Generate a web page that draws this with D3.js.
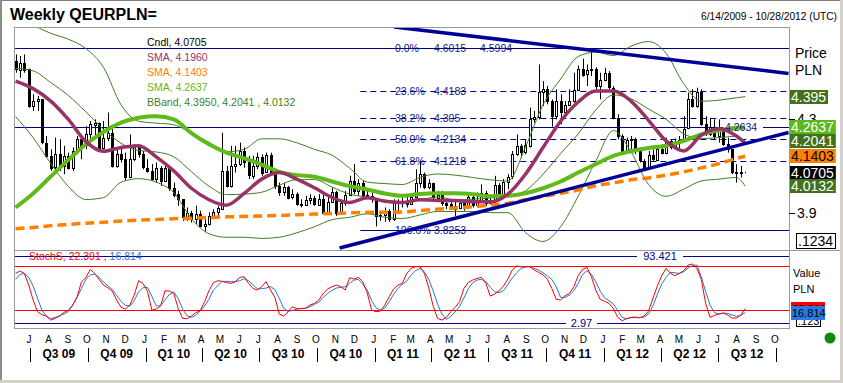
<!DOCTYPE html>
<html>
<head>
<meta charset="utf-8">
<script src="https://cdnjs.cloudflare.com/ajax/libs/d3/7.8.5/d3.min.js"></script>
<style>
  body { margin: 0; background: #fff; }
  svg text { font-family: "Liberation Sans", Arial, sans-serif; }
</style>
</head>
<body>
<div id="chart"></div>
<script>
// weekly candles, first bar = week of 8 Jun 2009, open of each bar = previous close
var firstWeek = new Date(2009, 5, 8);
var firstOpen = 4.547;
var closes = [
  4.511,4.540,4.511,4.355,4.376,4.383,4.199,4.142,4.092,4.149,
  4.099,4.142,4.092,4.163,4.213,4.185,4.234,4.277,4.284,4.178,
  4.220,4.241,4.099,4.149,4.128,4.050,4.128,4.178,4.149,4.092,
  4.078,4.043,4.092,4.036,4.092,4.007,3.979,3.957,3.879,3.898,
  3.872,3.894,3.844,3.851,3.884,3.901,3.918,4.078,4.014,4.099,
  4.107,4.163,4.114,4.057,4.099,4.139,4.071,4.145,4.071,4.014,
  3.989,4.011,3.965,3.979,3.936,3.933,3.955,3.963,3.936,3.960,
  3.901,3.946,3.989,3.901,3.940,3.975,4.036,3.993,4.026,3.975,
  3.969,3.957,3.886,3.889,3.908,3.872,3.946,3.943,3.949,3.936,
  3.965,4.026,4.064,4.007,4.026,3.965,3.977,3.943,3.936,3.929,
  3.918,3.940,3.922,3.965,3.932,3.955,3.983,3.940,3.950,4.017,
  3.975,4.031,4.054,4.149,4.185,4.159,4.187,4.301,4.310,4.415,
  4.429,4.376,4.310,4.376,4.329,4.358,4.375,4.423,4.514,4.490,
  4.508,4.514,4.440,4.466,4.494,4.433,4.305,4.227,4.159,4.210,
  4.216,4.170,4.121,4.088,4.145,4.128,4.173,4.156,4.206,4.182,
  4.196,4.210,4.258,4.383,4.355,4.415,4.277,4.239,4.267,4.227,
  4.258,4.192,4.170,4.071,4.074,4.071,4.0705];
var highs = [
  4.575,4.568,4.575,4.514,4.405,4.398,4.383,4.227,4.170,4.220,
  4.213,4.185,4.156,4.178,4.227,4.213,4.270,4.291,4.298,4.284,
  4.291,4.327,4.256,4.170,4.185,4.156,4.234,4.192,4.178,4.163,
  4.128,4.107,4.114,4.099,4.114,4.099,4.028,3.993,3.957,3.922,
  3.908,3.929,3.908,3.886,3.901,3.915,3.929,4.241,4.099,4.185,
  4.185,4.199,4.178,4.142,4.142,4.156,4.149,4.156,4.156,4.071,
  4.028,4.028,4.014,4.000,3.986,3.957,3.972,3.979,3.972,3.979,
  3.979,3.972,4.007,3.993,3.950,3.993,4.057,4.107,4.043,4.036,
  4.000,3.986,3.957,3.908,3.922,3.915,3.957,3.957,3.965,3.972,
  3.979,4.085,4.121,4.071,4.043,4.028,3.993,3.993,3.957,3.950,
  3.950,3.957,3.950,3.979,3.972,3.986,4.021,3.993,3.965,4.057,
  4.026,4.043,4.064,4.163,4.234,4.192,4.213,4.348,4.334,4.532,
  4.461,4.440,4.383,4.426,4.405,4.376,4.426,4.497,4.528,4.557,
  4.532,4.596,4.520,4.497,4.518,4.504,4.440,4.320,4.234,4.220,
  4.227,4.220,4.178,4.128,4.163,4.170,4.185,4.192,4.220,4.213,
  4.216,4.227,4.312,4.412,4.426,4.433,4.426,4.312,4.305,4.298,
  4.298,4.263,4.220,4.170,4.107,4.099,4.074];
var lows = [
  4.497,4.476,4.497,4.348,4.334,4.334,4.192,4.135,4.078,4.078,
  4.078,4.064,4.085,4.078,4.149,4.128,4.170,4.213,4.220,4.170,
  4.170,4.206,4.092,4.092,4.114,4.036,4.050,4.120,4.135,4.085,
  4.071,4.036,4.028,4.014,4.030,3.993,3.965,3.929,3.865,3.865,
  3.858,3.851,3.837,3.818,3.845,3.872,3.879,3.915,4.007,4.007,
  4.071,4.099,4.092,4.043,4.043,4.085,4.057,4.071,4.064,4.000,
  3.972,3.972,3.957,3.957,3.929,3.922,3.929,3.936,3.929,3.929,
  3.894,3.894,3.943,3.886,3.894,3.929,3.972,3.979,3.972,3.965,
  3.957,3.943,3.841,3.865,3.861,3.861,3.865,3.894,3.922,3.922,
  3.936,3.965,4.007,4.000,4.000,3.957,3.950,3.929,3.915,3.915,
  3.886,3.915,3.908,3.915,3.922,3.929,3.950,3.929,3.936,3.943,
  3.965,3.972,4.000,4.043,4.142,4.135,4.149,4.178,4.284,4.298,
  4.355,4.362,4.267,4.298,4.277,4.320,4.355,4.369,4.419,4.480,
  4.440,4.483,4.426,4.383,4.461,4.426,4.298,4.213,4.149,4.156,
  4.163,4.149,4.114,4.078,4.085,4.121,4.121,4.149,4.149,4.170,
  4.173,4.170,4.206,4.256,4.348,4.348,4.270,4.227,4.227,4.213,
  4.199,4.185,4.156,4.064,4.028,4.050,4.068];

// studies, read every 4 weeks (week index of the candle)
var lineWeeks = [0,4,8,12,16,20,24,28,32,36,40,44,48,52,56,60,64,68,72,76,80,
  84,88,92,96,100,104,108,112,116,120,124,128,132,136,140,144,148,152,156,160,164,166];
var smaPurple = [4.461,4.429,4.376,4.298,4.203,4.162,4.178,4.185,4.138,4.078,4.004,
  3.955,3.932,3.982,4.043,4.071,4.043,4.006,3.965,3.943,3.963,3.949,3.943,3.955,
  3.952,3.952,3.946,3.946,3.979,4.064,4.178,4.290,4.372,4.419,4.419,4.376,4.294,
  4.206,4.163,4.230,4.258,4.227,4.196];
var smaOrange = [3.831,3.837,3.844,3.850,3.855,3.859,3.864,3.868,3.871,3.874,3.876,
  3.879,3.882,3.884,3.886,3.888,3.891,3.894,3.896,3.899,3.901,3.902,3.903,3.909,
  3.915,3.920,3.925,3.932,3.940,3.955,3.969,3.983,3.996,4.015,4.027,4.040,4.048,
  4.060,4.074,4.091,4.109,4.131,4.1403];
var smaGreen = [3.922,3.982,4.054,4.125,4.192,4.244,4.284,4.305,4.311,4.298,4.239,
  4.192,4.156,4.132,4.105,4.074,4.060,4.053,4.033,4.013,3.999,3.982,3.972,3.980,
  3.983,3.983,3.979,3.970,3.972,3.983,4.004,4.033,4.071,4.107,4.142,4.162,4.176,
  4.185,4.206,4.234,4.250,4.262,4.2637];
var bandUpper = [4.74,4.70,4.665,4.64,4.60,4.52,4.36,4.29,4.282,4.275,4.238,
  4.20,4.16,4.17,4.215,4.215,4.198,4.17,4.145,4.09,4.03,4.024,4.02,4.05,
  4.065,4.06,4.05,4.04,4.035,4.18,4.36,4.47,4.566,4.585,4.57,4.61,4.63,
  4.58,4.45,4.375,4.38,4.39,4.395];
var bandMid = [4.515,4.505,4.455,4.400,4.330,4.256,4.196,4.165,4.159,4.138,4.075,
  4.013,3.977,3.979,3.987,4.017,4.041,4.041,4.009,3.979,3.966,3.953,3.947,3.955,
  3.967,3.955,3.957,3.963,3.969,3.993,4.064,4.152,4.236,4.338,4.402,4.386,4.342,
  4.298,4.236,4.216,4.220,4.226,4.2041];
var bandLower = [4.31,4.22,4.11,4.012,3.956,3.964,4.03,4.045,4.03,3.985,3.875,
  3.81,3.795,3.795,3.79,3.795,3.814,3.84,3.87,3.88,3.895,3.88,3.875,3.89,
  3.905,3.905,3.905,3.90,3.90,3.815,3.777,3.84,3.97,4.12,4.25,4.16,4.02,
  3.97,4.0,4.035,4.043,4.05,4.0132];

// slow stochastic, one value per candle
var stochK = [
  69.7,72.9,69.7,54.0,33.9,18.2,14.1,12.3,6.9,9.2,
  12.3,17.3,19.9,27.1,38.3,58.5,63.9,75.1,69.7,61.7,
  54.0,50.4,45.9,33.9,24.0,21.7,27.1,40.6,59.9,56.3,
  45.9,20.4,21.7,25.8,46.4,45.9,42.8,22.6,9.2,8.7,
  12.3,16.8,19.5,31.6,46.4,57.2,59.9,59.0,57.2,56.3,
  58.5,64.4,65.3,56.3,49.5,47.3,51.8,58.5,47.3,37.4,
  15.0,12.3,18.2,24.9,22.2,22.2,23.1,27.1,29.4,33.9,
  42.8,48.7,51.8,54.0,51.8,47.3,63.9,62.1,64.4,58.5,
  43.7,20.4,18.2,19.0,27.1,38.3,48.7,54.0,56.3,69.7,
  76.5,78.7,78.7,69.7,50.4,25.8,9.2,6.9,10.5,18.2,
  24.0,31.6,49.5,57.6,60.8,63.0,64.4,56.3,39.2,41.9,
  46.4,52.7,62.1,74.2,79.6,78.7,78.7,78.7,74.2,71.1,
  67.9,61.7,49.5,34.8,33.9,39.7,42.8,51.8,66.6,75.1,
  77.8,65.3,47.3,34.8,32.1,29.4,22.6,10.5,6.0,8.7,
  10.5,11.0,10.1,12.3,19.0,36.1,52.7,66.6,76.5,69.7,
  66.6,69.7,73.3,81.0,82.3,76.5,61.7,29.4,10.5,13.2,
  15.0,16.4,13.7,9.6,9.6,13.7,22.391];
var stochD = [
  61.7,68.4,69.7,64.4,52.7,36.1,20.4,12.3,8.7,10.5,
  12.8,15.0,18.2,27.1,37.4,49.5,61.7,67.5,68.9,64.4,
  58.1,53.1,48.2,40.1,32.1,26.7,25.8,33.0,45.1,50.4,
  50.9,39.2,25.8,26.2,33.9,41.5,44.6,36.1,21.7,12.8,
  10.5,13.2,19.0,25.8,34.8,47.3,53.1,59.0,59.0,58.5,
  58.5,59.9,62.6,59.9,54.5,49.1,49.1,50.0,51.8,48.2,
  36.1,22.6,18.6,19.9,21.7,22.6,22.6,24.9,28.0,31.2,
  37.4,42.8,46.9,50.0,50.9,51.8,56.3,60.8,61.7,54.9,
  47.3,33.0,23.5,20.4,23.1,31.6,41.5,49.5,55.4,59.4,
  67.5,73.3,76.5,72.0,61.7,46.4,28.5,15.0,7.8,11.9,
  17.7,24.9,36.5,49.1,57.2,60.8,61.7,58.5,50.9,45.1,
  43.7,46.4,54.9,63.5,70.6,76.5,78.3,78.7,76.5,74.2,
  70.6,66.2,61.7,51.8,37.4,37.4,40.6,46.4,56.3,68.4,
  73.3,68.4,58.5,45.9,37.0,33.0,28.9,19.5,10.5,8.7,
  10.1,10.1,10.1,11.0,15.0,25.8,41.5,55.4,64.4,71.1,
  70.6,69.7,72.0,76.9,80.5,81.0,65.3,45.1,27.1,16.8,
  15.0,16.4,15.9,13.7,11.9,13.2,16.814];
var stochLevels = [80, 20];
var stochExtremes = [93.421, 2.97];

// drawing tools
var fibPct = ["0.0%", "23.6%", "38.2%", "50.0%", "61.8%", "100.0%"];
var fibValues = [4.6015, 4.4183, 4.305, 4.2134, 4.1218, 3.8253];
var fibText = ["4.6015", "4.4183", "4.305", "4.2134", "4.1218", "3.8253"];
var fibStart = new Date(2010, 11, 9);
var hLineValue = 4.2634;
var trendDown = [[new Date(2011, 1, 1), 4.692], [new Date(2012, 9, 21), 4.494]];
var trendUp = [[new Date(2010, 10, 6), 3.749], [new Date(2012, 9, 21), 4.242]];

var priceTicks = [4.3, 3.9];
var lastValues = [4.395, 4.2637, 4.2041, 4.1403, 4.0705, 4.0132];
var lastLabels = ["4.395", "4.2637", "4.2041", "4.1403", "4.0705", "4.0132"];
var legendLabels = ["Cndl, 4.0705", "SMA, 4.1960", "SMA, 4.1403", "SMA, 4.2637",
  "BBand, 4.3950, 4.2041 , 4.0132"];

var W = 843, H = 383;
var left = 14, right = 789, pTop = 27, pBot = 250, sBot = 328;

var svg = d3.select("#chart").append("svg")
    .attr("width", W).attr("height", H);

svg.append("rect").attr("width", W).attr("height", H).attr("fill", "#fff");

var defs = svg.append("defs");
defs.append("clipPath").attr("id", "clipP").append("rect")
    .attr("x", left).attr("y", pTop).attr("width", right - left).attr("height", pBot - pTop);
defs.append("clipPath").attr("id", "clipS").append("rect")
    .attr("x", left).attr("y", pBot + 1).attr("width", right - left).attr("height", sBot - pBot - 1);

var x = d3.scaleTime()
    .domain([new Date(2009, 6, 1), new Date(2012, 9, 1)])
    .range([30, 776]);
var y = d3.scaleLinear().domain([3.7406, 4.692]).range([pBot, pTop]);
var ys = d3.scaleLinear().domain([0, 100]).range([325.2, 250.9]);

var weekDate = function (i) { return d3.timeWeek.offset(firstWeek, i); };

// titles
svg.append("text").attr("x", 10).attr("y", 20)
    .style("font-size", "16px").style("font-weight", "bold")
    .text("Weekly QEURPLN=");
svg.append("text").attr("x", 837).attr("y", 20).attr("text-anchor", "end")
    .style("font-size", "10.2px").text("6/14/2009 - 10/28/2012 (UTC)");

// ---------- price panel ----------
var gp = svg.append("g").attr("clip-path", "url(#clipP)");

// fibonacci retracement + horizontal lines
var fx0 = x(fibStart);
fibValues.forEach(function (v, k) {
  var solid = (k == 0 || k == fibValues.length - 1);
  gp.append("line")
      .attr("x1", k == 0 ? left : fx0).attr("x2", right)
      .attr("y1", Math.round(y(v)) + 0.5).attr("y2", Math.round(y(v)) + 0.5)
      .attr("stroke", "#000080").attr("stroke-width", 1)
      .attr("stroke-dasharray", solid ? null : "6,4");
});
gp.append("line").attr("x1", left).attr("x2", 723)
    .attr("y1", Math.round(y(hLineValue)) + 0.5).attr("y2", Math.round(y(hLineValue)) + 0.5)
    .attr("stroke", "#000080");
gp.append("line").attr("x1", 763).attr("x2", right)
    .attr("y1", Math.round(y(hLineValue)) + 0.5).attr("y2", Math.round(y(hLineValue)) + 0.5)
    .attr("stroke", "#000080");

// candles
var candles = closes.map(function (c, i) {
  return {date: weekDate(i), open: i ? closes[i - 1] : firstOpen, close: c, high: highs[i], low: lows[i]};
});
gp.append("g").selectAll("line")
    .data(candles).enter().append("line")
    .attr("x1", function (d) { return Math.round(x(d.date)) + 0.5; })
    .attr("x2", function (d) { return Math.round(x(d.date)) + 0.5; })
    .attr("y1", function (d) { return y(d.high); })
    .attr("y2", function (d) { return y(d.low); })
    .attr("stroke", "#000").attr("stroke-width", 1);
gp.append("g").selectAll("rect")
    .data(candles).enter().append("rect")
    .attr("x", function (d) { return Math.round(x(d.date)) - 0.5; })
    .attr("y", function (d) { return Math.round(y(Math.max(d.open, d.close))) + 0.5; })
    .attr("width", 2)
    .attr("height", function (d) { return Math.max(0, Math.round(Math.abs(y(d.open) - y(d.close)))); })
    .attr("fill", function (d) { return d.close >= d.open ? "#fff" : "#000"; })
    .attr("stroke", "#000").attr("stroke-width", 1);

// study lines
var series = function (vals) {
  return vals.map(function (v, k) { return {date: weekDate(lineWeeks[k]), v: v}; });
};
var studyLine = d3.line()
    .x(function (d) { return x(d.date); })
    .y(function (d) { return y(d.v); })
    .curve(d3.curveMonotoneX);

[bandUpper, bandMid, bandLower].forEach(function (b) {
  gp.append("path").datum(series(b)).attr("d", studyLine)
      .attr("fill", "none").attr("stroke", "#3f7f1f").attr("stroke-width", 1);
});
gp.append("path").datum(series(smaOrange)).attr("d", studyLine)
    .attr("fill", "none").attr("stroke", "#ff8000").attr("stroke-width", 3.5)
    .attr("stroke-dasharray", "9,5");
gp.append("path").datum(series(smaGreen)).attr("d", studyLine)
    .attr("fill", "none").attr("stroke", "#5fba1a").attr("stroke-width", 4);
gp.append("path").datum(series(smaPurple)).attr("d", studyLine)
    .attr("fill", "none").attr("stroke", "#993366").attr("stroke-width", 3.5);

// trend lines
[trendDown, trendUp].forEach(function (t) {
  gp.append("line")
      .attr("x1", x(t[0][0])).attr("y1", y(t[0][1]))
      .attr("x2", x(t[1][0])).attr("y2", y(t[1][1]))
      .attr("stroke", "#000099").attr("stroke-width", 3.5);
});

// fib labels
fibValues.forEach(function (v, k) {
  var ty = y(v) + 4;
  gp.append("text").attr("x", 395).attr("y", ty).attr("fill", "#14148c")
      .style("font-size", "10.5px").text(fibPct[k]);
  gp.append("text").attr("x", 434).attr("y", ty).attr("fill", "#14148c")
      .style("font-size", "10.5px").text(fibText[k]);
});
gp.append("text").attr("x", 480).attr("y", y(fibValues[0]) + 4).attr("fill", "#14148c")
    .style("font-size", "10.5px").text("4.5994");
gp.append("text").attr("x", 725).attr("y", y(hLineValue) + 4).attr("fill", "#14148c")
    .style("font-size", "10.5px").text(hLineValue.toFixed(4));

// legend
var legendColors = ["#000", "#993366", "#ff8000", "#5fba1a", "#3f7f1f"];
legendLabels.forEach(function (t, k) {
  svg.append("text").attr("x", 147).attr("y", 46 + k * 15)
      .attr("fill", legendColors[k]).style("font-size", "10.5px").text(t);
});

// ---------- stochastic panel ----------
var gs = svg.append("g").attr("clip-path", "url(#clipS)");
stochLevels.forEach(function (v) {
  gs.append("line").attr("x1", left).attr("x2", right)
      .attr("y1", Math.round(ys(v)) + 0.5).attr("y2", Math.round(ys(v)) + 0.5)
      .attr("stroke", "#ff0000");
});
var extGaps = [[637, 683], [566, 597]];
stochExtremes.forEach(function (v, k) {
  var yy = Math.round(ys(v)) + 0.5;
  gs.append("line").attr("x1", left).attr("x2", extGaps[k][0]).attr("y1", yy).attr("y2", yy)
      .attr("stroke", "#000099");
  gs.append("line").attr("x1", extGaps[k][1]).attr("x2", right).attr("y1", yy).attr("y2", yy)
      .attr("stroke", "#000099");
  gs.append("text").attr("x", (extGaps[k][0] + extGaps[k][1]) / 2).attr("y", ys(v) + 4)
      .attr("text-anchor", "middle").attr("fill", "#000080")
      .style("font-size", "11px").text(String(v));
});
var stochLine = d3.line()
    .x(function (d, i) { return x(weekDate(i)); })
    .y(function (d) { return ys(d); });
gs.append("path").datum(stochD).attr("d", stochLine)
    .attr("fill", "none").attr("stroke", "#2277e0").attr("stroke-width", 1);
gs.append("path").datum(stochK).attr("d", stochLine)
    .attr("fill", "none").attr("stroke", "#ff0000").attr("stroke-width", 1);

var leg = svg.append("text").attr("x", 29).attr("y", ys(stochExtremes[0]) + 4)
    .style("font-size", "10.5px");
leg.append("tspan").attr("fill", "#ff0000").text("StochS, 22.391 , ");
leg.append("tspan").attr("fill", "#2277e0").text("16.814");

// ---------- frames ----------
var grey = "#9a9a9a";
svg.append("line").attr("x1", left).attr("x2", right + 0.5).attr("y1", pTop + 0.5).attr("y2", pTop + 0.5).attr("stroke", grey);
svg.append("line").attr("x1", left + 0.5).attr("x2", left + 0.5).attr("y1", pTop).attr("y2", sBot + 1).attr("stroke", grey);
svg.append("line").attr("x1", right + 0.5).attr("x2", right + 0.5).attr("y1", pTop).attr("y2", sBot + 1).attr("stroke", grey);
svg.append("line").attr("x1", left).attr("x2", W).attr("y1", pBot + 0.5).attr("y2", pBot + 0.5).attr("stroke", grey);
svg.append("line").attr("x1", left).attr("x2", right + 1).attr("y1", sBot + 0.5).attr("y2", sBot + 0.5).attr("stroke", grey);

// window edges
svg.append("rect").attr("x", 0).attr("y", 0).attr("width", W).attr("height", 1).attr("fill", "#808080");
svg.append("rect").attr("x", 0).attr("y", 0).attr("width", 2).attr("height", H).attr("fill", "#8c8c8c");
svg.append("rect").attr("x", W - 3).attr("y", 0).attr("width", 3).attr("height", H).attr("fill", "#d4d0c8");
svg.append("rect").attr("x", 0).attr("y", H - 3).attr("width", W).attr("height", 3).attr("fill", "#d4d0c8");

// ---------- right axis ----------
svg.append("text").attr("x", 795).attr("y", 58).style("font-size", "14px").text("Price");
svg.append("text").attr("x", 795).attr("y", 75).style("font-size", "14px").text("PLN");

priceTicks.forEach(function (v) {
  svg.append("line").attr("x1", right).attr("x2", 795)
      .attr("y1", Math.round(y(v)) + 0.5).attr("y2", Math.round(y(v)) + 0.5).attr("stroke", "#000");
  svg.append("text").attr("x", 797).attr("y", y(v) + 5).style("font-size", "14px").text(String(v));
});

var badgeFill = ["#41711f", "#5cb81c", "#41711f", "#ff8000", "#000", "#41711f"];
var badgeText = ["#fff", "#fff", "#fff", "#000", "#fff", "#fff"];
lastValues.forEach(function (v, k) {
  var g = svg.append("g");
  var r = g.append("rect").attr("x", 790).attr("y", Math.round(y(v)) - 7)
      .attr("height", 14).attr("fill", badgeFill[k]);
  var t = g.append("text").attr("x", 791).attr("y", Math.round(y(v)) + 5)
      .attr("fill", badgeText[k]).style("font-size", "14px").text(lastLabels[k]);
  r.attr("width", t.node().getComputedTextLength() + 3);
});

// scratch boxes
svg.append("rect").attr("x", 796.5).attr("y", 233.5).attr("width", 39).attr("height", 15)
    .attr("fill", "#fff").attr("stroke", "#000");
svg.append("text").attr("x", 798).attr("y", 246).style("font-size", "14px").text(".1234");

svg.append("text").attr("x", 793).attr("y", 277).style("font-size", "11px").text("Value");
svg.append("text").attr("x", 793).attr("y", 293).style("font-size", "11px").text("PLN");
svg.append("rect").attr("x", 796.5).attr("y", 313.5).attr("width", 24).attr("height", 13)
    .attr("fill", "#fff").attr("stroke", "#000");
svg.append("text").attr("x", 798).attr("y", 325).style("font-size", "11px").text(".123");

var stochLast = [stochK[stochK.length - 1], stochD[stochD.length - 1]];
var stochFill = ["#ff0000", "#2a78e4"];
stochLast.forEach(function (v, k) {
  svg.append("rect").attr("x", 791).attr("y", Math.round(ys(v)) - 7)
      .attr("width", 34).attr("height", 14).attr("fill", stochFill[k]);
  svg.append("text").attr("x", 792).attr("y", Math.round(ys(v)) + 4)
      .attr("fill", "#000").style("font-size", "11px").text(String(v));
});

svg.append("circle").attr("cx", 830).attr("cy", 338).attr("r", 5.5).attr("fill", "#0a8c0a");

// ---------- time axis ----------
var months = d3.timeMonth.range(new Date(2009, 6, 1), new Date(2012, 9, 2));
var monthFmt = d3.timeFormat("%b");
svg.append("g").selectAll("text")
    .data(months).enter().append("text")
    .attr("x", function (d) { return x(d) - 1; })
    .attr("y", 343)
    .attr("text-anchor", "middle")
    .style("font-size", "10px")
    .text(function (d) { return monthFmt(d)[0]; });

var quarters = d3.timeMonth.every(3).range(new Date(2009, 6, 1), new Date(2012, 9, 2));
quarters.forEach(function (q, k) {
  var qx = Math.round(x(q)) + 0.5;
  svg.append("line").attr("x1", qx).attr("x2", qx).attr("y1", 348).attr("y2", 362)
      .attr("stroke", "#000");
  if (k < quarters.length - 1) {
    var mid = (x(q) + x(quarters[k + 1])) / 2;
    svg.append("text").attr("x", mid).attr("y", 358).attr("text-anchor", "middle")
        .style("font-size", "12px").style("font-weight", "bold")
        .text("Q" + (q.getMonth() / 3 + 1) + " " + d3.timeFormat("%y")(q));
  }
});
</script>
</body>
</html>
